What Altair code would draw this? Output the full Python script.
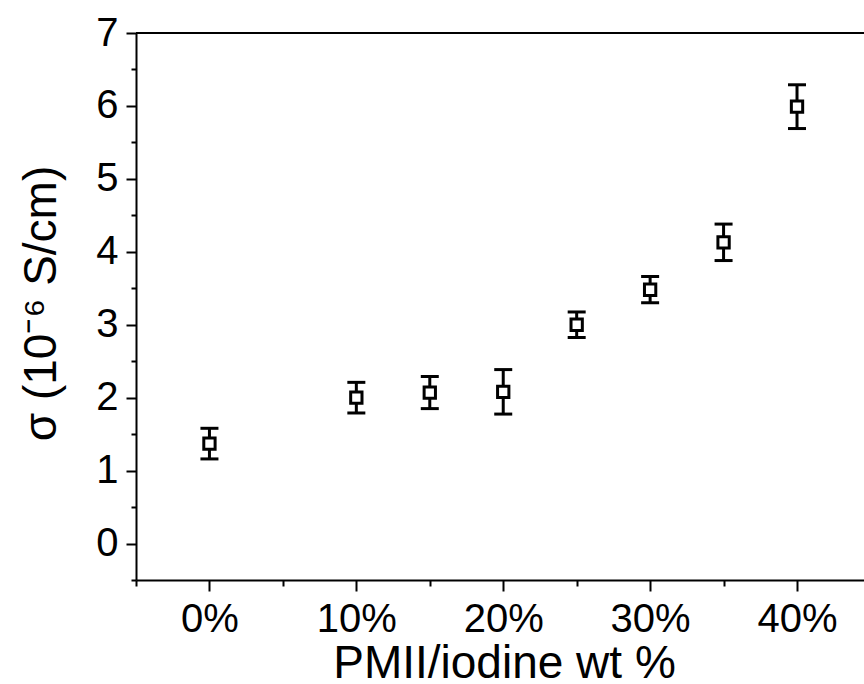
import altair as alt
import pandas as pd

# PMII/iodine loading (wt %) and ionic conductivity (10^-6 S/cm)
loading = [0, 10, 15, 20, 25, 30, 35, 40]
sigma = [1.37, 2.00, 2.07, 2.08, 3.00, 3.48, 4.13, 5.99]
sigma_err = [0.21, 0.21, 0.22, 0.305, 0.175, 0.18, 0.25, 0.30]

x_major = [0, 10, 20, 30, 40]
x_minor = [-5, 5, 15, 25, 35]
y_major = [0, 1, 2, 3, 4, 5, 6, 7]
y_minor = [-0.5, 0.5, 1.5, 2.5, 3.5, 4.5, 5.5, 6.5]

df = pd.DataFrame({"loading": loading, "sigma": sigma, "err": sigma_err})
df["lo"] = df["sigma"] - df["err"]
df["hi"] = df["sigma"] + df["err"]

FONT = "Liberation Sans"
W, H = 728, 547

x_scale = alt.Scale(domain=[-5, 44.56], nice=False, zero=False)
y_scale = alt.Scale(domain=[-0.5, 7], nice=False, zero=False)

common_axis = dict(
    grid=False,
    domainColor="black",
    domainWidth=2,
    tickColor="black",
    tickWidth=2,
    labelColor="black",
    labelFont=FONT,
    labelFontSize=40,
    labelFlush=False,
    titleColor="black",
    titleFont=FONT,
    titleFontSize=46,
    titleFontWeight="normal",
)

x_axis = alt.Axis(
    orient="bottom",
    values=x_major,
    labelExpr="datum.value + '%'",
    tickSize=11,
    labelPadding=8,
    title="PMII/iodine wt %",
    titleX=368,
    titleY=97,
    titleAlign="center",
    titleBaseline="alphabetic",
    **common_axis,
)
y_axis = alt.Axis(
    orient="left",
    values=y_major,
    tickSize=10,
    labelPadding=8,
    title="σ (10⁻⁶ S/cm)",
    titleX=-81,
    titleY=270,
    titleAngle=270,
    titleAlign="center",
    titleBaseline="alphabetic",
    **common_axis,
)
x_minor_axis = alt.Axis(
    orient="bottom", values=x_minor, labels=False, domain=False, grid=False,
    title=None, tickSize=6, tickWidth=2, tickColor="black",
)
y_minor_axis = alt.Axis(
    orient="left", values=y_minor, labels=False, domain=False, grid=False,
    title=None, tickSize=5, tickWidth=2, tickColor="black",
)

base = alt.Chart(df)

# main axes carried by the error-bar stems
stems = base.mark_rule(color="black", strokeWidth=3).encode(
    x=alt.X("loading:Q", scale=x_scale, axis=x_axis),
    y=alt.Y("lo:Q", scale=y_scale, axis=y_axis),
    y2="hi:Q",
)

caps_top = base.mark_tick(
    orient="horizontal", color="black", size=18, thickness=3, opacity=1
).encode(
    x=alt.X("loading:Q", scale=x_scale, axis=None),
    y=alt.Y("hi:Q", scale=y_scale, axis=None),
)
caps_bottom = base.mark_tick(
    orient="horizontal", color="black", size=18, thickness=3, opacity=1
).encode(
    x=alt.X("loading:Q", scale=x_scale, axis=None),
    y=alt.Y("lo:Q", scale=y_scale, axis=None),
)

points = base.mark_point(
    shape="square", filled=True, fill="white", stroke="black",
    strokeWidth=3, size=128, opacity=1,
).encode(
    x=alt.X("loading:Q", scale=x_scale, axis=None),
    y=alt.Y("sigma:Q", scale=y_scale, axis=None),
)

# invisible layer carrying the minor tick axes
minor = base.mark_point(opacity=0).encode(
    x=alt.X("loading:Q", scale=x_scale, axis=x_minor_axis),
    y=alt.Y("sigma:Q", scale=y_scale, axis=y_minor_axis),
)

# top frame line
top_frame = alt.Chart(pd.DataFrame({"k": [0]})).mark_rule(
    color="black", strokeWidth=2
).encode(x=alt.value(0), x2=alt.value(W), y=alt.value(0))

chart = (
    alt.layer(stems, caps_top, caps_bottom, points, minor, top_frame)
    .resolve_axis(x="independent", y="independent")
    .properties(
        width=W,
        height=H,
        autosize=alt.AutoSizeParams(type="none"),
        padding={"left": 136, "top": 33, "right": 0, "bottom": 104},
        background="white",
    )
    .configure_view(stroke=None)
)

chart.save("out.html", embed_options={"renderer": "svg", "actions": False})
